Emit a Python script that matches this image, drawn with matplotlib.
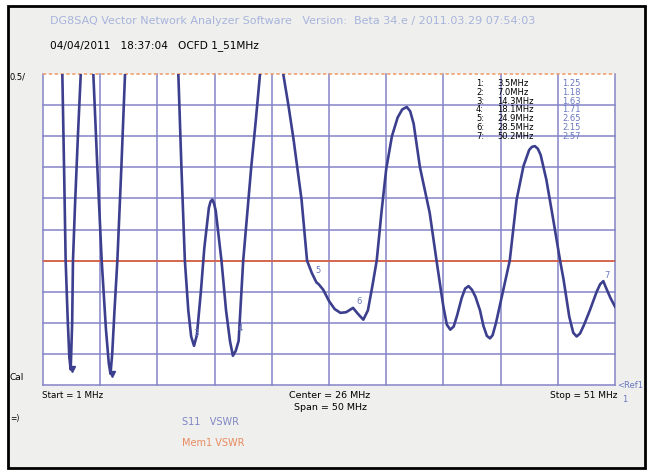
import matplotlib.pyplot as plt
from matplotlib.patches import Rectangle

# trace (MHz, VSWR); values above 6 run off the top
freq = [1.0, 2.0, 2.69, 2.85, 2.98, 3.15, 3.3, 3.42, 3.55, 3.62, 3.8, 4.05, 4.3, 4.85, 5.4,
        5.75, 6.13, 6.5, 6.75, 6.9, 7.05, 7.25, 7.5, 7.85, 8.17, 9.5, 10.5, 11.8, 12.83,
        13.1, 13.4, 13.7, 13.95, 14.2, 14.45, 14.8, 15.1, 15.5, 15.65, 15.8, 15.95, 16.1,
        16.6, 17.0, 17.35, 17.6, 17.85, 18.1, 18.5, 18.85, 19.2, 19.6, 19.97, 21.0, 22.0,
        22.45, 22.9, 23.6, 24.08, 24.5, 24.9, 25.1, 25.5, 26.0, 26.5, 27.0, 27.5, 28.1,
        28.5, 29.0, 29.4, 29.8, 30.17, 30.6, 31.0, 31.5, 32.0, 32.4, 32.8, 33.1, 33.4,
        33.95, 34.8, 35.4, 35.8, 36.0, 36.3, 36.6, 36.9, 37.2, 37.6, 37.9, 38.2, 38.5,
        38.8, 39.2, 39.5, 39.8, 40.07, 40.3, 40.6, 41.2, 41.8, 42.4, 43.0, 43.5, 43.75,
        44.0, 44.25, 44.5, 45.0, 45.6, 46.2, 46.5, 47.0, 47.35, 47.65, 47.95, 48.3, 48.8,
        49.4, 49.7, 49.98, 50.2, 50.6, 51.0]
vswr = [15.0, 9.0, 6.0, 4.4, 3.0, 2.1, 1.45, 1.25, 2.0, 3.0, 3.9, 5.0, 6.0, 7.5, 6.0,
        4.5, 3.0, 1.9, 1.35, 1.18, 1.5, 2.2, 3.0, 4.5, 6.0, 9.0, 10.0, 8.5, 6.0,
        4.5, 3.0, 2.2, 1.78, 1.63, 1.8, 2.5, 3.2, 3.85, 3.95, 3.98, 3.92, 3.8,
        3.0, 2.2, 1.7, 1.47, 1.55, 1.71, 3.0, 3.75, 4.5, 5.25, 6.0, 7.0, 6.0,
        5.5, 4.95, 3.98, 3.0, 2.8, 2.65, 2.62, 2.53, 2.35, 2.22, 2.16, 2.17, 2.24,
        2.15, 2.05, 2.2, 2.6, 3.0, 3.8, 4.47, 5.0, 5.3, 5.43, 5.47, 5.4, 5.2,
        4.5, 3.77, 3.0, 2.5, 2.26, 1.97, 1.89, 1.94, 2.12, 2.4, 2.55, 2.59, 2.53,
        2.42, 2.2, 1.95, 1.79, 1.75, 1.8, 2.0, 2.5, 3.0, 3.98, 4.52, 4.78, 4.83,
        4.84, 4.8, 4.7, 4.3, 3.66, 3.0, 2.7, 2.1, 1.84, 1.78, 1.83, 1.97, 2.2,
        2.5, 2.62, 2.67, 2.57, 2.4, 2.26]

marker_num = ['1', '2', '3', '4', '5', '6', '7']
marker_freq = [3.5, 7.0, 14.3, 18.1, 24.9, 28.5, 50.2]
marker_vswr = [1.25, 1.18, 1.63, 1.71, 2.65, 2.15, 2.57]
marker_text = ['3.5MHz', '7.0MHz', '14.3MHz', '18.1MHz', '24.9MHz', '28.5MHz', '50.2MHz']

W, H = 652, 472
fig = plt.figure(figsize=(W / 100, H / 100), dpi=100)
fig.patch.set_facecolor('white')

# grey panel with black frame
fig.patches.append(Rectangle((8 / W, 1 - 468 / H), 637 / W, 462 / H, transform=fig.transFigure,
                             facecolor='#efefed', edgecolor='black', linewidth=2, zorder=-1))

ax = fig.add_axes([43 / W, 1 - 385 / H, 572 / W, 311 / H])
ax.set_zorder(2)
ax.set_facecolor('white')
ax.set_xlim(1, 51)
ax.set_ylim(1, 6)
gridc = '#8484c8'
for i in range(11):
    ax.axvline(1 + 5 * i, color=gridc, lw=1.1, zorder=1, clip_on=False)
for i in range(10):
    ax.axhline(1 + 0.5 * i, color=gridc, lw=1.1, zorder=1, clip_on=False)
ax.axhline(6, color='#f0a070', lw=1.2, ls=(0, (2, 1.5)), zorder=2, clip_on=False)
ax.axhline(3, color='#e0603a', lw=1.2, zorder=2)
for s in ax.spines.values():
    s.set_visible(False)
ax.set_xticks([])
ax.set_yticks([])

ax.plot(freq, vswr, color='#3c3f8e', lw=1.9, zorder=3, solid_joinstyle='round')

# marker labels on the trace
mc = '#6a78c0'
for n, f, v in zip(marker_num, marker_freq, marker_vswr):
    if n in ('1', '2'):
        ax.plot(f, v, marker='v', color='#3c3f8e', ms=4, zorder=4)
    else:
        ax.text(f + 0.1, v + 0.12, n, fontsize=6, color=mc, ha='center', va='bottom', zorder=4)

# marker table
for i in range(7):
    y = 83.5 + i * 8.8
    fig.text(484 / W, 1 - y / H, marker_num[i] + ':', fontsize=6, ha='right', va='center', zorder=5)
    fig.text(497 / W, 1 - y / H, marker_text[i], fontsize=6, ha='left', va='center', zorder=5)
    fig.text(562 / W, 1 - y / H, '%.2f' % marker_vswr[i], fontsize=6, ha='left', va='center',
             color=mc, zorder=5)

fig.text(50 / W, 1 - 21 / H,
         'DG8SAQ Vector Network Analyzer Software   Version:  Beta 34.e / 2011.03.29 07:54:03',
         fontsize=8, color='#a8b4dc', va='center')
fig.text(50 / W, 1 - 46 / H, '04/04/2011   18:37:04   OCFD 1_51MHz', fontsize=7.6, va='center')
fig.text(10 / W, 1 - 77 / H, '0.5/', fontsize=6, va='center')
fig.text(10 / W, 1 - 378 / H, 'Cal', fontsize=6.5, va='center')
fig.text(42 / W, 1 - 396 / H, 'Start = 1 MHz', fontsize=6.3, va='center')
fig.text(330 / W, 1 - 396 / H, 'Center = 26 MHz', fontsize=6.8, va='center', ha='center')
fig.text(330 / W, 1 - 408 / H, 'Span = 50 MHz', fontsize=6.8, va='center', ha='center')
fig.text(617 / W, 1 - 396 / H, 'Stop = 51 MHz', fontsize=6.5, va='center', ha='right')
fig.text(617 / W, 1 - 386 / H, '<Ref1', fontsize=6, va='center', color=mc)
fig.text(622 / W, 1 - 399 / H, '1', fontsize=6, va='center', color=mc)
fig.text(10 / W, 1 - 418 / H, '=)', fontsize=5.5, va='center')
fig.text(182 / W, 1 - 422 / H, 'S11   VSWR', fontsize=7, va='center', color='#8088c4')
fig.text(182 / W, 1 - 443 / H, 'Mem1 VSWR', fontsize=7, va='center', color='#e88a60')

fig.savefig('out.png', dpi=100)
